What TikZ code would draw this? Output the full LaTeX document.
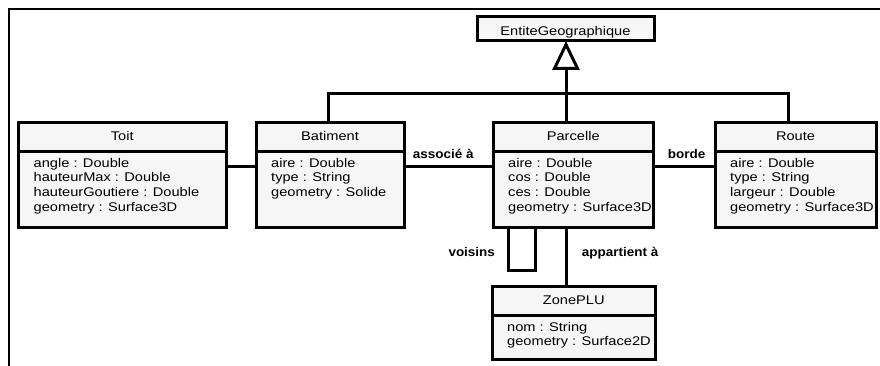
\documentclass[tikz,border=0pt]{standalone}
\usepackage{fontspec}
\setmainfont{Liberation Sans}[FakeStretch=1.16]
\newfontfamily\lblfont{Liberation Sans}[FakeStretch=1.07]
\usetikzlibrary{arrows.meta}
\definecolor{boxfill}{HTML}{F6F6F6}
\tikzset{
  classbox/.style={draw=black, line width=3pt, fill=boxfill, rectangle,
    inner sep=0pt, outer sep=0pt, anchor=north west},
  divider/.style={line width=3pt},
  titletext/.style={font=\fontsize{12.6}{14.7}\selectfont, inner sep=0pt, anchor=base},
  attrtext/.style={font=\fontsize{12.6}{14.7}\selectfont, inner sep=0pt,
    align=left, anchor=north west},
  conn/.style={line width=3pt, line join=miter},
  assoclabel/.style={font=\fontsize{12.6}{14.7}\selectfont\lblfont\bfseries,
    inner sep=0pt, anchor=base west},
  frameline/.style={line width=1.5pt},
  gentip/.style={-{Triangle[open, length=29pt, width=27pt, line join=miter]}},
}
% #1 name, #2 x1, #3 y1, #4 x2, #5 y2, #6 divider y, #7 title, #8 attributes
\newcommand{\umlclassbox}[8]{%
  \node[classbox, minimum width={#4-#2}, minimum height={#5-#3}] (#1) at ({#2},{#3}) {};
  \draw[divider] (#1.west |- 0,{#6}) -- (#1.east |- 0,{#6});
  \node[titletext] (#1-title) at ({(#2+#4)/2},{(#3+#6)/2+3.6}) {#7};
  \node[attrtext] (#1-attrs) at ({#2+15},{#6+6.3}) {#8};
}
\begin{document}
\begin{tikzpicture}[x=1pt,y=-1pt]
\useasboundingbox (0,0) rectangle (880,366);
% frame
\coordinate (frtl) at (9,9);
\coordinate (frbl) at (9,366);
\coordinate (frtr) at (880,9);
\draw[frameline] (frbl) -- (frtl) -- (frtr);

% header-only class
\node[classbox, minimum width=177, minimum height=24] (entite) at (477,17) {};
\node[titletext] (entite-title) at (565.5,36) {EntiteGeographique};

\umlclassbox{toit}{18.5}{123}{226}{227}{151.5}{Toit}
  {angle : Double\\hauteurMax : Double\\hauteurGoutiere : Double\\geometry : Surface3D}
\umlclassbox{batiment}{256}{123}{404}{227}{151.5}{Batiment}
  {aire : Double\\type : String\\geometry : Solide}
\umlclassbox{parcelle}{493}{123}{653.5}{227}{151.5}{Parcelle}
  {aire : Double\\cos : Double\\ces : Double\\geometry : Surface3D}
\umlclassbox{route}{715}{123}{876}{227}{151.5}{Route}
  {aire : Double\\type : String\\largeur : Double\\geometry : Surface3D}
\umlclassbox{zoneplu}{492}{286}{655.5}{359.5}{315.5}{ZonePLU}
  {nom : String\\geometry : Surface2D}

% helper coordinates
\coordinate (gx) at (566,0);
\coordinate (gbar) at (0,94);
\coordinate (gbx) at (328,0);
\coordinate (grx) at (788,0);
\coordinate (vl) at (508,0);
\coordinate (vr) at (535.7,0);
\coordinate (vb) at (0,270.7);

% generalization
\draw[conn, gentip] (parcelle.north -| gx) -- (entite.south -| gx);
\draw[conn] (batiment.north -| gbx) -- (gbar -| gbx) -- (gbar -| grx) -- (route.north -| grx);

% associations
\draw[conn] ([yshift=8pt]toit.east) -- ([yshift=8pt]batiment.west);
\draw[conn] ([yshift=8pt]batiment.east) -- ([yshift=8pt]parcelle.west);
\draw[conn] ([yshift=8pt]parcelle.east) -- ([yshift=8pt]route.west);
\draw[conn] (parcelle.south -| vl) -- (vb -| vl) -- (vb -| vr) -- (parcelle.south -| vr);
\draw[conn] (parcelle.south -| gx) -- (zoneplu.north -| gx);

% labels
\node[assoclabel] (lblassoc) at (412.7,158.3) {associé à};
\node[assoclabel] (lblborde) at (667.7,158.3) {borde};
\node[assoclabel] (lblvoisins) at (448.3,256.7) {voisins};
\node[assoclabel] (lblappart) at (581.7,256.7) {appartient à};
\end{tikzpicture}
\end{document}
